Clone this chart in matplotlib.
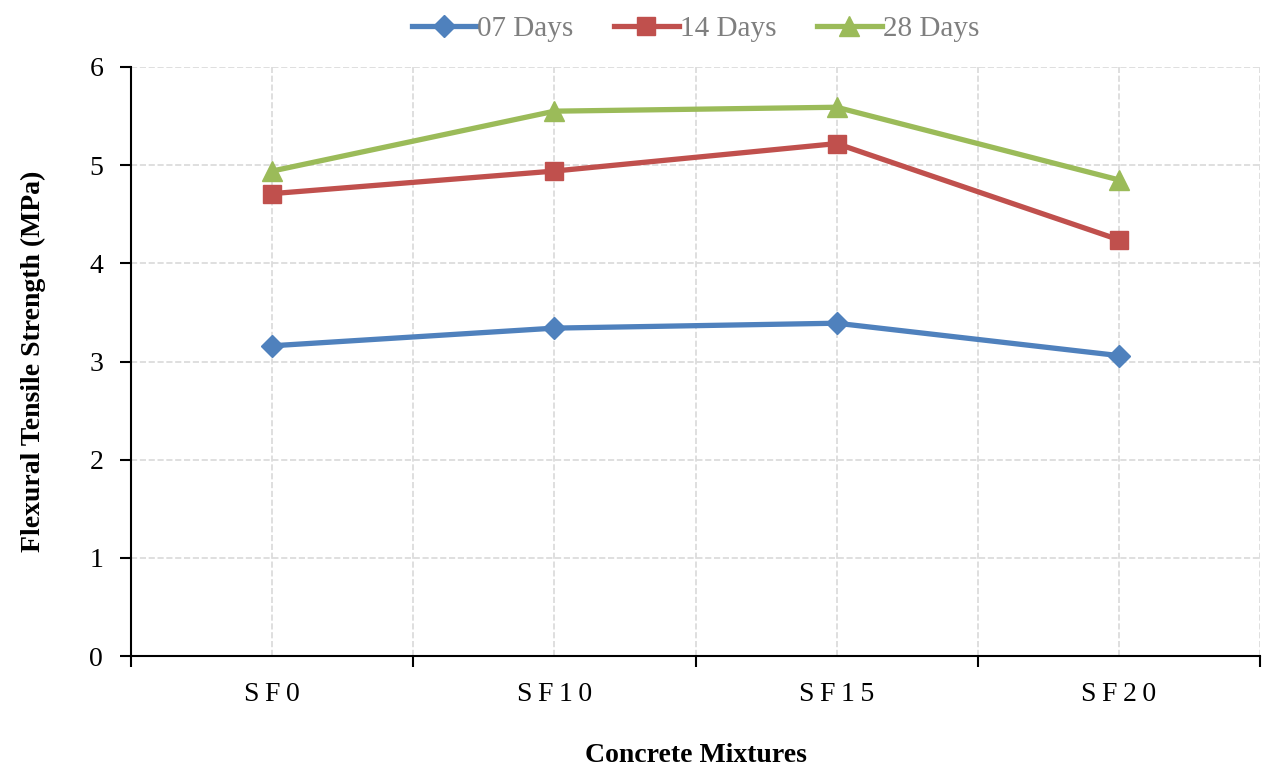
import matplotlib
matplotlib.use('Agg')
import matplotlib.pyplot as plt

mixtures = ["SF0", "SF10", "SF15", "SF20"]
days_07 = [3.16, 3.34, 3.39, 3.06]
days_14 = [4.71, 4.94, 5.22, 4.24]
days_28 = [4.94, 5.55, 5.59, 4.85]

plt.rcParams['font.family'] = ['Liberation Serif', 'DejaVu Serif']

fig = plt.figure(figsize=(12.62, 7.72), dpi=100)
ax = fig.add_axes([131 / 1262, 1 - 656 / 772, 1129 / 1262, 589 / 772])

x = list(range(len(mixtures)))
ax.plot(x, days_07, color='#4F81BD', lw=3.8, marker='D', ms=11, label='07 Days')
ax.plot(x, days_14, color='#C0504D', lw=3.8, marker='s', ms=13, label='14 Days')
ax.plot(x, days_28, color='#9BBB59', lw=3.8, marker='^', ms=14, label='28 Days')

ax.set_xlim(-0.5, 3.5)
ax.set_ylim(0, 6)

# ticks on category boundaries, labels centred on categories (letter-spaced)
spaced = ['\u2009'.join(m) for m in mixtures]
ax.set_xticks([-0.5, 0.5, 1.5, 2.5, 3.5])
ax.set_xticklabels([])
ax.set_xticks(x, minor=True)
ax.set_xticklabels(spaced, minor=True, fontsize=20)
ax.tick_params(axis='x', which='minor', length=0, pad=19)
ax.tick_params(axis='x', which='major', direction='out', length=8, width=1.5)
ax.set_yticks(range(7))
ax.tick_params(axis='y', direction='out', length=8, width=1.5, labelsize=20, pad=12)

ax.grid(True, which='both', color='#d9d9d9', ls='--', lw=1.2)
ax.set_axisbelow(True)
for s in ['top', 'right']:
    ax.spines[s].set_visible(False)
for s in ['left', 'bottom']:
    ax.spines[s].set_linewidth(1.5)

ax.set_xlabel('Concrete Mixtures', fontsize=20, fontweight='bold', labelpad=26)
ax.set_ylabel('Flexural Tensile Strength (MPa)', fontsize=20, fontweight='bold', labelpad=31)

leg = ax.legend(loc='lower center', bbox_to_anchor=(0.5, 1.0), ncol=3, frameon=False,
                fontsize=21, handlelength=2.2, columnspacing=1.4, handletextpad=0.05,
                borderaxespad=0.45)
for t in leg.get_texts():
    t.set_color('#7f7f7f')

fig.savefig('out.png', dpi=100)
